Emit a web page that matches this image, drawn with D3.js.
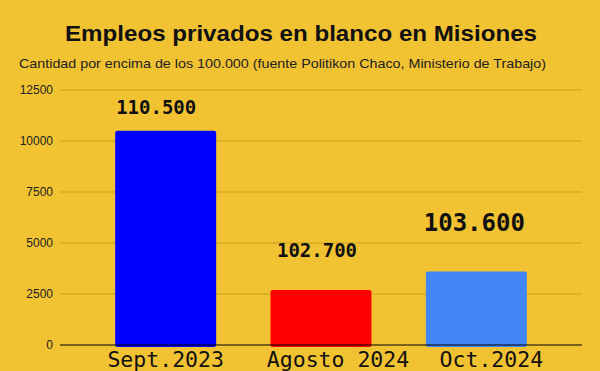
<!DOCTYPE html>
<html><head><meta charset="utf-8">
<script src="https://cdn.jsdelivr.net/npm/d3@7/dist/d3.min.js"></script>
<style>html,body{margin:0;padding:0;background:#f1c232;}svg{display:block;}</style>
</head><body>
<script>
const categories = ["Sept.2023", "Agosto 2024", "Oct.2024"];
const values = [10500, 2700, 3600];
const valueLabels = ["110.500", "102.700", "103.600"];
const barColors = ["#0000ff", "#ff0000", "#4285f4"];
const yTicks = [0, 2500, 5000, 7500, 10000, 12500];
const title = "Empleos privados en blanco en Misiones";
const subtitle = "Cantidad por encima de los 100.000 (fuente Politikon Chaco, Ministerio de Trabajo)";

const W = 600, H = 371;
const svg = d3.select("body").append("svg").attr("width", W).attr("height", H);
svg.append("rect").attr("width", W).attr("height", H).attr("fill", "#f1c232");

const y = d3.scaleLinear().domain([0, 12500]).range([345, 90]);
const x = d3.scaleBand().domain(categories).range([88, 554]).paddingInner(0.35).paddingOuter(0.175);

// gridlines
svg.append("g").selectAll("line").data(yTicks.filter(d => d > 0)).join("line")
  .attr("x1", 60).attr("x2", 582)
  .attr("y1", d => y(d)).attr("y2", d => y(d))
  .attr("stroke", "#cb9f22").attr("stroke-width", 1);

// y axis labels
const yAxis = d3.axisLeft(y).tickValues(yTicks).tickSize(0).tickPadding(0).tickFormat(d3.format("d"));
const ga = svg.append("g").attr("transform", "translate(53,0)").call(yAxis);
ga.select(".domain").remove();
ga.selectAll("text").attr("font-family", "Liberation Sans, Arial, sans-serif").attr("font-size", 12).attr("fill", "#222");

// bars
svg.append("g").selectAll("rect").data(values).join("rect")
  .attr("x", (d, i) => x(categories[i]))
  .attr("width", x.bandwidth())
  .attr("y", d => y(d))
  .attr("height", d => y(0) - y(d) + 2)
  .attr("rx", 2)
  .attr("fill", (d, i) => barColors[i]);

// baseline
svg.append("line").attr("x1", 60).attr("x2", 582).attr("y1", y(0)).attr("y2", y(0))
  .attr("stroke", "#000").attr("stroke-width", 1);

// value labels
const labelGap = [17, 33, 41];
const labelSize = [19, 19, 24];
const labelDx = [-9.5, -4, -2];
svg.append("g").selectAll("text").data(values).join("text")
  .attr("x", (d, i) => x(categories[i]) + x.bandwidth() / 2 + labelDx[i])
  .attr("y", (d, i) => y(d) - labelGap[i])
  .attr("text-anchor", "middle")
  .attr("font-family", "DejaVu Sans Mono, monospace")
  .attr("font-weight", "bold")
  .attr("font-size", (d, i) => labelSize[i])
  .attr("fill", "#111")
  .text((d, i) => valueLabels[i]);

// category labels
const catDx = [0, 17, 15];
svg.append("g").selectAll("text").data(categories).join("text")
  .attr("x", (d, i) => x(d) + x.bandwidth() / 2 + catDx[i])
  .attr("y", 367)
  .attr("text-anchor", "middle")
  .attr("font-family", "DejaVu Sans Mono, monospace")
  .attr("font-size", 21.5)
  .attr("fill", "#111")
  .text(d => d);

// titles
svg.append("text").attr("x", 301).attr("y", 41).attr("text-anchor", "middle")
  .attr("font-family", "Liberation Sans, Arial, sans-serif").attr("font-weight", "bold")
  .attr("font-size", 22).attr("fill", "#111").text(title)
  .attr("textLength", 472).attr("lengthAdjust", "spacingAndGlyphs");
svg.append("text").attr("x", 19).attr("y", 68)
  .attr("font-family", "Liberation Sans, Arial, sans-serif")
  .attr("font-size", 13).attr("fill", "#222").text(subtitle)
  .attr("textLength", 527).attr("lengthAdjust", "spacingAndGlyphs");
</script>
</body></html>
